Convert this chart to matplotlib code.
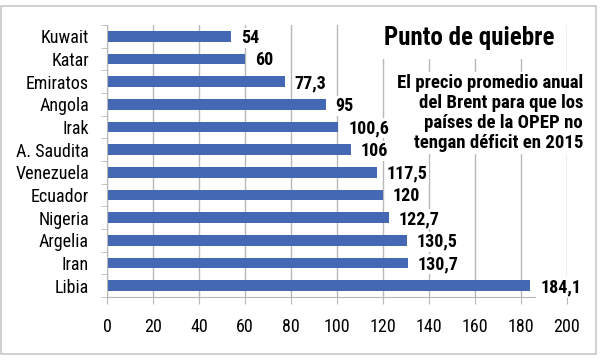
import matplotlib.pyplot as plt
from matplotlib.patches import Rectangle

# data
paises = ["Kuwait", "Katar", "Emiratos", "Angola", "Irak", "A. Saudita",
          "Venezuela", "Ecuador", "Nigeria", "Argelia", "Iran", "Libia"]
precio = [54, 60, 77.3, 95, 100.6, 106, 117.5, 120, 122.7, 130.5, 130.7, 184.1]
xticks = [0, 20, 40, 60, 80, 100, 120, 140, 160, 180, 200]

titulo = "Punto de quiebre"
subtitulo = ("El precio promedio anual\ndel Brent para que los\n"
             "países de la OPEP no\ntengan déficit en 2015")

plt.rcParams['font.family'] = ['Roboto Condensed', 'DejaVu Sans']

bar_color = "#4468b4"
grid_color = "#b8b8b8"

fig = plt.figure(figsize=(6, 3.61), dpi=100)
fig.patch.set_facecolor("white")
fig.patches.append(Rectangle((1/600, 1 - 354/361), 595/600, 348/361,
                             transform=fig.transFigure, fill=False,
                             edgecolor="#c8c8c8", linewidth=1.2))

ax = fig.add_axes([107/600, 1 - 297/361, 460/600, 272/361])
y = list(range(len(paises)))
ax.barh(y, precio, height=0.48, color=bar_color, zorder=2)
ax.set_ylim(len(paises) - 0.5, -0.5)
ax.set_xlim(0, 200)

ax.set_yticks(y)
ax.set_yticklabels(paises, fontsize=13)
ax.set_yticks([i - 0.5 for i in range(len(paises) + 1)], minor=True)
ax.tick_params(axis="y", which="major", length=0, pad=13)
ax.tick_params(axis="y", which="minor", length=4, color=grid_color)

ax.set_xticks(xticks)
ax.set_xticklabels([str(v) for v in xticks], fontsize=13)
ax.tick_params(axis="x", length=5, color=grid_color, pad=10)
ax.grid(axis="x", color=grid_color, linewidth=1, zorder=0)

for s in ["top", "right"]:
    ax.spines[s].set_visible(False)
ax.spines["left"].set_color(grid_color)
ax.spines["bottom"].set_color(grid_color)
ax.spines["bottom"].set_bounds(0, 186)
ax.set_axisbelow(True)

for yi, v in zip(y, precio):
    lbl = f"{v:g}".replace(".", ",")
    ax.annotate(lbl, (v, yi), xytext=(7, -1), textcoords="offset points",
                ha="left", va="center", fontsize=13, fontweight="bold",
                zorder=4,
                bbox=dict(boxstyle="square,pad=0.05", fc="white", ec="none"))

ax.text(469/600, 1 - 38/361, titulo, transform=fig.transFigure,
        ha="center", va="center", fontsize=18, fontweight="bold",
        zorder=3, clip_on=False,
        bbox=dict(boxstyle="square,pad=0.35", fc="white", ec="none"))
ax.text(583/600, 1 - 113/361, subtitulo, transform=fig.transFigure,
        ha="right", va="center", fontsize=13.5, fontweight="bold",
        linespacing=1.15, zorder=3, clip_on=False,
        bbox=dict(boxstyle="square,pad=0.1", fc="white", ec="none"))

fig.savefig("out.png", dpi=100)
